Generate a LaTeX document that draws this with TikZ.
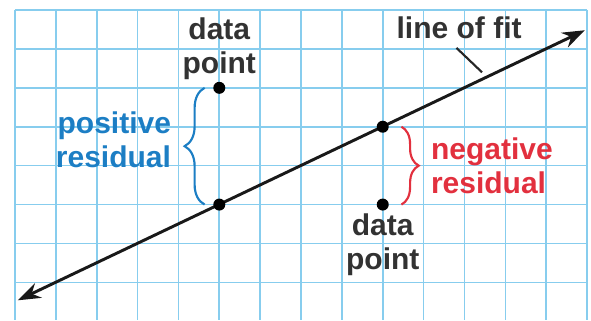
\documentclass[tikz,border=0pt]{standalone}
\usepackage{fontspec}
\setmainfont{Liberation Sans}
\usetikzlibrary{arrows.meta, positioning, decorations.pathreplacing, calc}
\definecolor{gridblue}{RGB}{135,205,238}
\definecolor{posblue}{RGB}{28,126,196}
\definecolor{negred}{RGB}{226,48,62}
\definecolor{labelgray}{RGB}{50,50,50}

\begin{document}
\begin{tikzpicture}[
  x=30.64pt, y=29.18pt,
  gridline/.style={gridblue, line width=1.2pt},
  fitline/.style={{Stealth[length=17pt,width=12pt]}-{Stealth[length=17pt,width=12pt]},
                  line width=2.2pt, black!90},
  dot/.style={circle, fill=black, inner sep=0pt, minimum size=9pt},
  lbl/.style={font=\bfseries\fontsize{22.5}{25.5}\selectfont, align=center, inner sep=1pt},
  resbrace/.style={decorate, decoration={brace, amplitude=#1}, line width=1.6pt},
  pointer/.style={black!85, line width=1.6pt, shorten >=5pt}
]
  \useasboundingbox (-0.367,0.257) rectangle (14.097,-7.969);

  % grid paper
  \foreach \i in {0,...,14}
    \draw[gridline] (\i,0) -- (\i,-7.969);
  \foreach \j in {0,...,7}
    \draw[gridline] (0,-\j) -- (14,-\j);

  % line of fit
  \coordinate (fitstart) at (0.07,-7.46);
  \coordinate (fitend) at (13.95,-0.52);
  \draw[fitline] (fitstart) -- coordinate[pos=0.827] (fitpt) (fitend);

  % points
  \node[dot] (l1) at (5,-5) {};
  \node[dot] (l2) at (9,-3) {};
  \node[dot] (d1) at (5,-2) {};
  \node[dot] (d2) at (9,-5) {};

  \node[lbl, labelgray, above=0pt of d1] (d1lbl) {data\\point};
  \node[lbl, labelgray, below=1pt of d2] (d2lbl) {data\\point};

  % residuals
  \draw[resbrace=15pt, posblue] ([xshift=-11pt]l1.center)
    -- coordinate[midway] (posmid) ([xshift=-11pt]d1.center);
  \node[lbl, posblue, align=right, left=24pt of posmid, yshift=5pt] (poslbl)
    {positive\\residual};

  \draw[resbrace=13pt, negred] ([xshift=14pt]l2.center)
    -- coordinate[midway] (negmid) ([xshift=14pt]d2.center);
  \node[lbl, negred, align=left, right=21pt of negmid] (neglbl)
    {negative\\residual};

  \node[lbl, labelgray, anchor=base] (fitlbl) at (10.87,-0.72) {line of fit};
  \draw[pointer] ([shift={(-2pt,-6pt)}]fitlbl.south) -- (fitpt);
\end{tikzpicture}
\end{document}
